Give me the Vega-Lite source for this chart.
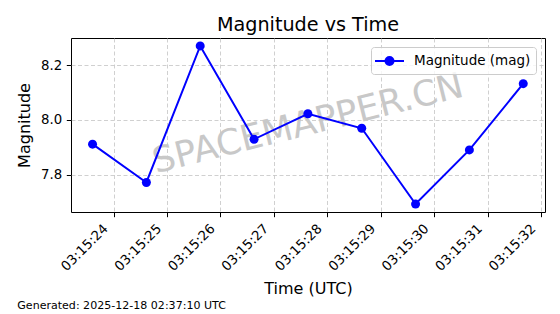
{
  "$schema": "https://vega.github.io/schema/vega-lite/v6.json",
  "autosize": {"type": "none"},
  "padding": {"left": 71, "top": 38, "right": 15, "bottom": 102},
  "width": 474,
  "height": 174,
  "background": "white",
  "title": {
    "text": "Magnitude vs Time",
    "fontSize": 19.2,
    "fontWeight": "normal",
    "font": "DejaVu Sans",
    "color": "black",
    "anchor": "middle",
    "frame": "group",
    "baseline": "alphabetic",
    "offset": -12
  },
  "config": {
    "font": "DejaVu Sans",
    "view": {"stroke": "black", "strokeWidth": 1},
    "axis": {
      "domain": false,
      "grid": true,
      "gridColor": "#c4c4c4",
      "gridDash": [4, 2.5],
      "gridWidth": 0.8,
      "tickColor": "black",
      "tickSize": 4.7,
      "tickWidth": 1,
      "labelColor": "black",
      "labelFontSize": 13.3,
      "labelFont": "DejaVu Sans",
      "titleFont": "DejaVu Sans",
      "titleFontSize": 16,
      "titleFontWeight": "normal",
      "titleColor": "black"
    }
  },
  "layer": [
    {
      "data": {"values": [{"label": "SPACEMAPPER.CN"}]},
      "mark": {
        "type": "text",
        "angle": -14,
        "fontSize": 35.5,
        "font": "DejaVu Sans",
        "color": "#c8c8c8",
        "align": "center",
        "baseline": "middle"
      },
      "encoding": {
        "x": {"datum": 1766027727637, "type": "temporal"},
        "y": {"datum": 7.985, "type": "quantitative"},
        "text": {"field": "label"}
      }
    },
    {
      "data": {
        "values": [
          {"time": "2025-12-18T03:15:23.607Z", "magnitude": 7.911, "series": "Magnitude (mag)"},
          {"time": "2025-12-18T03:15:24.614Z", "magnitude": 7.771, "series": "Magnitude (mag)"},
          {"time": "2025-12-18T03:15:25.621Z", "magnitude": 8.270, "series": "Magnitude (mag)"},
          {"time": "2025-12-18T03:15:26.628Z", "magnitude": 7.929, "series": "Magnitude (mag)"},
          {"time": "2025-12-18T03:15:27.635Z", "magnitude": 8.022, "series": "Magnitude (mag)"},
          {"time": "2025-12-18T03:15:28.642Z", "magnitude": 7.969, "series": "Magnitude (mag)"},
          {"time": "2025-12-18T03:15:29.649Z", "magnitude": 7.692, "series": "Magnitude (mag)"},
          {"time": "2025-12-18T03:15:30.656Z", "magnitude": 7.890, "series": "Magnitude (mag)"},
          {"time": "2025-12-18T03:15:31.663Z", "magnitude": 8.132, "series": "Magnitude (mag)"}
        ]
      },
      "mark": {
        "type": "line",
        "strokeWidth": 2,
        "point": {"filled": true, "size": 81, "opacity": 1}
      },
      "encoding": {
        "x": {
          "field": "time",
          "type": "temporal",
          "title": "Time (UTC)",
          "scale": {
            "type": "utc",
            "domain": [1766027723204, 1766027732070],
            "nice": false
          },
          "axis": {
            "format": "%H:%M:%S",
            "values": [1766027724000, 1766027725000, 1766027726000, 1766027727000, 1766027728000, 1766027729000, 1766027730000, 1766027731000, 1766027732000],
            "labelAngle": -45,
            "labelAlign": "right",
            "labelBaseline": "top",
            "labelOffset": -13,
            "labelPadding": 4.5,
            "titlePadding": 8,
            "labelOverlap": false,
            "labelFlush": false
          }
        },
        "y": {
          "field": "magnitude",
          "type": "quantitative",
          "title": "Magnitude",
          "scale": {"domain": [7.663, 8.299], "nice": false, "zero": false},
          "axis": {
            "values": [7.8, 8.0, 8.2],
            "format": ".1f",
            "labelPadding": 4.7,
            "titlePadding": 8
          }
        },
        "color": {
          "field": "series",
          "type": "nominal",
          "scale": {"domain": ["Magnitude (mag)"], "range": ["#0000ff"]},
          "legend": {
            "title": null,
            "orient": "top-right",
            "offset": 9,
            "padding": 5,
            "fillColor": "rgba(255,255,255,0.8)",
            "strokeColor": "#cccccc",
            "cornerRadius": 3,
            "labelFontSize": 13.5,
            "labelFont": "DejaVu Sans",
            "labelColor": "black",
            "symbolType": "M-1.8125,0L1.8125,0M0.5,0A0.5,0.5,0,1,1,-0.5,0A0.5,0.5,0,1,1,0.5,0Z",
            "symbolSize": 256,
            "symbolOffset": 4.5,
            "labelOffset": 15.5,
            "symbolStrokeWidth": 2,
            "symbolFillColor": "#0000ff",
            "symbolStrokeColor": "#0000ff",
            "symbolOpacity": 1
          }
        }
      }
    },
    {
      "data": {"values": [{"note": "Generated: 2025-12-18 02:37:10 UTC"}]},
      "mark": {
        "type": "text",
        "fontSize": 11.05,
        "font": "DejaVu Sans",
        "color": "black",
        "align": "left",
        "baseline": "alphabetic",
        "clip": false
      },
      "encoding": {
        "x": {"datum": 1766027722199, "type": "temporal"},
        "y": {"datum": 7.3085, "type": "quantitative"},
        "text": {"field": "note"}
      }
    }
  ]
}
